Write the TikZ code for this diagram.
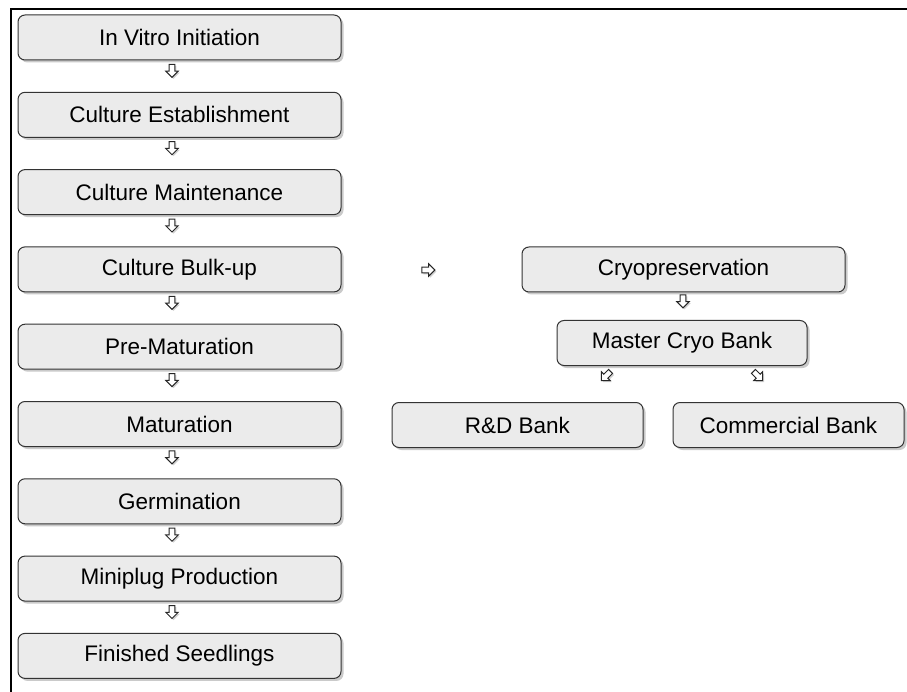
\documentclass[tikz,border=0pt]{standalone}
\usepackage{fontspec}
\setmainfont{Liberation Sans}
\usetikzlibrary{shapes.arrows,shadows}
\begin{document}
\begin{tikzpicture}[x=1pt,y=-1pt,
  stagebox/.style={draw=black!80, line width=1pt, rounded corners=7pt, fill=black!8,
    minimum width=323pt, minimum height=45pt, inner sep=0pt,
    font=\fontsize{22.5}{26}\selectfont,
    drop shadow={shadow xshift=2.5pt, shadow yshift=-2.5pt, opacity=0.35, fill=black!60}},
  flowarrow/.style={shape=single arrow, draw=black!85, fill=white, line width=1pt,
    minimum width=12.5pt, minimum height=13pt, single arrow head extend=3pt, inner sep=2pt,
    drop shadow={shadow xshift=1.5pt, shadow yshift=-1.5pt, opacity=0.3, fill=black!60}},
  frame/.style={line width=1.6pt, black}
]
\useasboundingbox (0,0) rectangle (907,692);
\draw[frame] (907,9) -- (11,9) -- (11,692);
% left column
\node[stagebox] (s1) at (179.5,37.5) {In Vitro Initiation};
\node[stagebox] (s2) at (179.5,114.8) {Culture Establishment};
\node[stagebox] (s3) at (179.5,192.1) {Culture Maintenance};
\node[stagebox] (s4) at (179.5,269.4) {Culture Bulk-up};
\node[stagebox] (s5) at (179.5,346.7) {Pre-Maturation};
\node[stagebox] (s6) at (179.5,424.0) {Maturation};
\node[stagebox] (s7) at (179.5,501.3) {Germination};
\node[stagebox] (s8) at (179.5,578.6) {Miniplug Production};
\node[stagebox] (s9) at (179.5,655.9) {Finished Seedlings};
\foreach \i/\y in {1/37.5,2/114.8,3/192.1,4/269.4,5/346.7,6/424.0,7/501.3,8/578.6}{
  \node[flowarrow, rotate=-90] (a\i) at (172,\y+32) {};
}
% right column
\node[flowarrow] (ar) at (427,270) {};
\node[stagebox, minimum width=323pt] (cryo) at (683.5,269.5) {Cryopreservation};
\node[flowarrow, rotate=-90] (ac) at (683,300) {};
\node[stagebox, minimum width=250pt] (master) at (682,343) {Master Cryo Bank};
\node[flowarrow, rotate=-135] (al) at (607,375) {};
\node[flowarrow, rotate=-45] (ab) at (757,375) {};
\node[stagebox, minimum width=251pt] (rd) at (517.5,425) {R\&D Bank};
\node[stagebox, minimum width=231pt] (comm) at (788.5,425) {Commercial Bank};
\end{tikzpicture}
\end{document}
